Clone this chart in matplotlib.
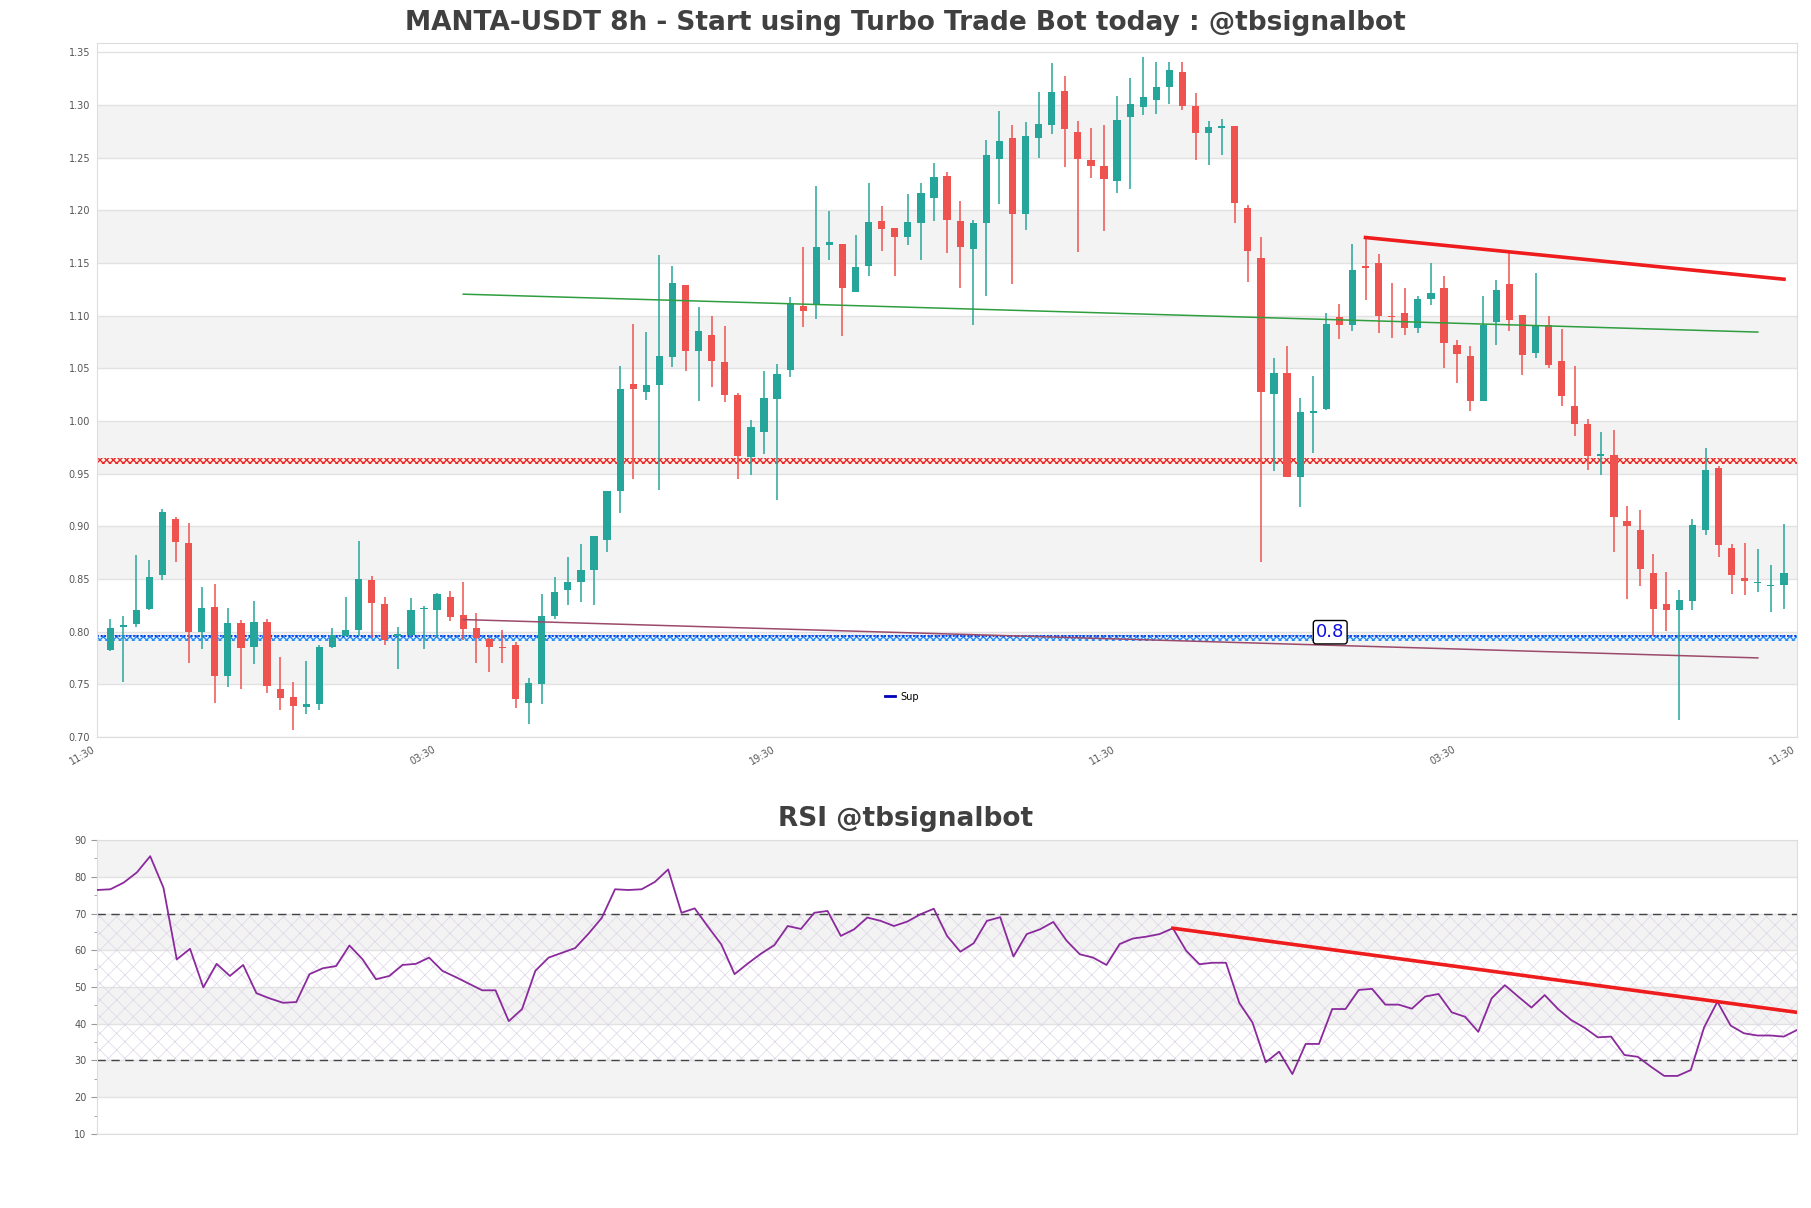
import numpy as np
import matplotlib
matplotlib.use('Agg')
import matplotlib.pyplot as plt
from matplotlib.lines import Line2D

# Datos de velas (8h)
opens = [0.7824, 0.8045, 0.8074, 0.8213, 0.8536, 0.9073, 0.8843, 0.7995, 0.8235, 0.7577,
         0.8083, 0.7853, 0.8093, 0.7457, 0.7381, 0.7283, 0.7315, 0.7853, 0.7963, 0.8014,
         0.8495, 0.8264, 0.7957, 0.7973, 0.8213, 0.8210, 0.8330, 0.8162, 0.8036, 0.7932,
         0.7850, 0.7878, 0.7324, 0.7505, 0.8147, 0.8393, 0.8469, 0.8583, 0.8874, 0.9333,
         1.0354, 1.0272, 1.0338, 1.0604, 1.1294, 1.0661, 1.0819, 1.0563, 1.0250, 0.9655,
         0.9892, 1.0212, 1.0481, 1.1094, 1.1110, 1.1673, 1.1680, 1.1230, 1.1477, 1.1901,
         1.1831, 1.1752, 1.1885, 1.2122, 1.2328, 1.1901, 1.1635, 1.1879, 1.2489, 1.2692,
         1.1964, 1.2685, 1.2812, 1.3134, 1.2745, 1.2480, 1.2423, 1.2284, 1.2891, 1.2986,
         1.3049, 1.3175, 1.3318, 1.2992, 1.2739, 1.2786, 1.2802, 1.2021, 1.1547, 1.0253,
         1.0456, 0.9465, 1.0076, 1.0117, 1.0984, 1.0914, 1.1474, 1.1499, 1.0999, 1.1025,
         1.0882, 1.1158, 1.1262, 1.0724, 1.0620, 1.0186, 1.0936, 1.1303, 1.1009, 1.0645,
         1.0914, 1.0573, 1.0139, 0.9975, 0.9671, 0.9674, 0.9048, 0.8969, 0.8558, 0.8264,
         0.8204, 0.8289, 0.8963, 0.9554, 0.8795, 0.8510, 0.8463, 0.8434, 0.8441]
highs = [0.8121, 0.8153, 0.8732, 0.8684, 0.9168, 0.9092, 0.9032, 0.8425, 0.8457, 0.8226,
         0.8115, 0.8295, 0.8121, 0.7761, 0.7520, 0.7726, 0.7878, 0.8036, 0.8333, 0.8865,
         0.8526, 0.8330, 0.8045, 0.8321, 0.8241, 0.8368, 0.8390, 0.8476, 0.8178, 0.7938,
         0.8014, 0.7900, 0.7562, 0.8362, 0.8520, 0.8713, 0.8836, 0.8912, 0.9339, 1.0519,
         1.0924, 1.0845, 1.1578, 1.1474, 1.1294, 1.1082, 1.0999, 1.0905, 1.0265, 1.0013,
         1.0471, 1.0541, 1.1174, 1.1651, 1.2233, 1.1996, 1.1680, 1.1768, 1.2258, 1.2043,
         1.1831, 1.2157, 1.2258, 1.2448, 1.2363, 1.2091, 1.1910, 1.2669, 1.2945, 1.2812,
         1.2843, 1.3128, 1.3403, 1.3277, 1.2850, 1.2780, 1.2812, 1.3087, 1.3254, 1.3454,
         1.3406, 1.3406, 1.3406, 1.3112, 1.2850, 1.2866, 1.2802, 1.2053, 1.1746, 1.0598,
         1.0715, 1.0218, 1.0424, 1.1025, 1.1110, 1.1683, 1.1746, 1.1588, 1.1309, 1.1262,
         1.1183, 1.1499, 1.1373, 1.0772, 1.0709, 1.1183, 1.1341, 1.1610, 1.1009, 1.1404,
         1.0993, 1.0876, 1.0525, 1.0019, 0.9892, 0.9918, 0.9190, 0.9159, 0.8741, 0.8564,
         0.8393, 0.9070, 0.9744, 0.9570, 0.8836, 0.8842, 0.8785, 0.8637, 0.9026]
lows = [0.7820, 0.7520, 0.8042, 0.8204, 0.8488, 0.8659, 0.7698, 0.7837, 0.7324, 0.7476,
        0.7457, 0.7694, 0.7419, 0.7255, 0.7065, 0.7220, 0.7261, 0.7846, 0.7957, 0.7957,
        0.7941, 0.7872, 0.7641, 0.7957, 0.7837, 0.7941, 0.8099, 0.7925, 0.7698, 0.7615,
        0.7698, 0.7277, 0.7125, 0.7315, 0.8120, 0.8251, 0.8280, 0.8257, 0.8754, 0.9127,
        0.9453, 1.0196, 0.9342, 1.0509, 1.0471, 1.0186, 1.0322, 1.0177, 0.9453, 0.9484,
        0.9690, 0.9254, 1.0415, 1.0898, 1.0968, 1.1531, 1.0810, 1.1230, 1.1373, 1.1616,
        1.1379, 1.1673, 1.1525, 1.1904, 1.1600, 1.1268, 1.0914, 1.1189, 1.2059, 1.1303,
        1.1816, 1.2495, 1.2723, 1.2410, 1.1610, 1.2312, 1.1809, 1.2163, 1.2205, 1.2907,
        1.2916, 1.3011, 1.2954, 1.2480, 1.2432, 1.2527, 1.1885, 1.1325, 0.8659, 0.9522,
        0.9465, 0.9181, 0.9696, 1.0101, 1.0778, 1.0857, 1.1145, 1.0835, 1.0788, 1.0819,
        1.0841, 1.1104, 1.0503, 1.0360, 1.0092, 1.0186, 1.0724, 1.0860, 1.0440, 1.0598,
        1.0503, 1.0139, 0.9861, 0.9538, 0.9484, 0.8754, 0.8311, 0.8431, 0.7957, 0.8004,
        0.7160, 0.8210, 0.8921, 0.8706, 0.8359, 0.8346, 0.8378, 0.8188, 0.8216]
closes = [0.8036, 0.8064, 0.8210, 0.8523, 0.9140, 0.8849, 0.7995, 0.8226, 0.7577, 0.8083,
          0.7843, 0.8093, 0.7482, 0.7369, 0.7293, 0.7318, 0.7856, 0.7966, 0.8020, 0.8501,
          0.8270, 0.7925, 0.7982, 0.8210, 0.8229, 0.8362, 0.8137, 0.8026, 0.7938, 0.7853,
          0.7843, 0.7362, 0.7514, 0.8153, 0.8381, 0.8476, 0.8589, 0.8912, 0.9339, 1.0307,
          1.0303, 1.0345, 1.0620, 1.1309, 1.0661, 1.0857, 1.0566, 1.0243, 0.9665, 0.9943,
          1.0218, 1.0449, 1.1110, 1.1041, 1.1651, 1.1702, 1.1268, 1.1461, 1.1888, 1.1825,
          1.1752, 1.1888, 1.2163, 1.2321, 1.1910, 1.1657, 1.1885, 1.2527, 1.2660, 1.1964,
          1.2707, 1.2821, 1.3128, 1.2777, 1.2492, 1.2426, 1.2299, 1.2859, 1.3011, 1.3080,
          1.3175, 1.3333, 1.2992, 1.2739, 1.2796, 1.2796, 1.2075, 1.1619, 1.0272, 1.0456,
          0.9465, 1.0085, 1.0098, 1.0924, 1.0914, 1.1430, 1.1458, 1.0993, 1.0984, 1.0882,
          1.1158, 1.1215, 1.0740, 1.0639, 1.0186, 1.0914, 1.1246, 1.0955, 1.0630, 1.0914,
          1.0528, 1.0234, 0.9975, 0.9665, 0.9680, 0.9089, 0.9000, 0.8596, 0.8216, 0.8210,
          0.8305, 0.9016, 0.9538, 0.8820, 0.8536, 0.8479, 0.8472, 0.8444, 0.8558]

rsi = [76.4, 76.6, 78.4, 81.2, 85.6, 77.0, 57.5, 60.4, 49.9, 56.3,
       53.0, 56.0, 48.3, 46.9, 45.7, 45.9, 53.5, 55.1, 55.7, 61.3,
       57.5, 52.1, 53.0, 56.0, 56.3, 58.0, 54.4, 52.7, 50.9, 49.1,
       49.1, 40.7, 44.0, 54.4, 58.0, 59.3, 60.6, 64.5, 68.8, 76.6,
       76.4, 76.6, 78.6, 82.0, 70.2, 71.4, 66.4, 61.6, 53.5, 56.4,
       59.1, 61.4, 66.6, 65.8, 70.2, 70.7, 63.9, 65.7, 68.9, 68.0,
       66.6, 67.8, 69.8, 71.3, 63.9, 59.6, 61.9, 68.0, 69.0, 58.3,
       64.4, 65.7, 67.7, 62.6, 58.9, 58.0, 56.0, 61.7, 63.2, 63.7,
       64.4, 66.0, 59.9, 56.2, 56.6, 56.6, 45.7, 40.3, 29.5, 32.4,
       26.3, 34.5, 34.5, 44.0, 44.0, 49.2, 49.5, 45.2, 45.2, 44.1,
       47.4, 48.1, 43.1, 41.9, 37.8, 46.9, 50.5, 47.4, 44.4, 47.8,
       44.0, 41.0, 38.9, 36.3, 36.5, 31.5, 31.0, 28.3, 25.8, 25.8,
       27.4, 39.0, 46.0, 39.5, 37.4, 36.8, 36.8, 36.5, 38.3]

x_labels = ['11:30', '03:30', '19:30', '11:30', '03:30', '11:30']

# Niveles y lineas de tendencia
resistance = 0.9617
support = 0.794
green_trend_x = [27, 126]
green_trend_y = [1.1205, 1.0845]
low_trend_x = [27, 126]
low_trend_y = [0.8115, 0.7751]
high_trend_x = [96, 128]
high_trend_y = [1.1743, 1.1347]
rsi_trend_x = [81, 128]
rsi_trend_y = [66.0, 43.1]

UP = '#26a69a'
DOWN = '#ef5350'
TXT = '#555555'

fig = plt.figure(figsize=(18.11, 12.08), dpi=100)
ax = fig.add_axes([0.0536, 0.3899, 0.9387, 0.5745])
ax2 = fig.add_axes([0.0536, 0.0613, 0.9387, 0.2433])

# ---- Grafico de precios ----
ax.set_xlim(-1, 129)
ax.set_ylim(0.70, 1.359)
for lo in np.arange(0.75, 1.30, 0.10):
    ax.axhspan(lo, lo + 0.05, color='#f3f3f3', lw=0, zorder=0)
for yv in np.arange(0.70, 1.36, 0.05):
    ax.axhline(yv, color='#e2e2e2', lw=1, zorder=0.5)

# bandas de soporte / resistencia (con rayado)
ax.axhspan(resistance - 0.0028, resistance + 0.0028, facecolor='#fff0e2', edgecolor='#e8262b',
           hatch='xxxxx', lw=0, zorder=1)
ax.axhspan(support - 0.0033, support + 0.0033, facecolor='#e8f4ff', edgecolor='#2a8cf0',
           hatch='xxxxx', lw=0, zorder=1)
ax.axhline(support + 0.0022, color='#1030e0', lw=1.3, ls=(0, (1, 1)), zorder=1.2)

# velas
idx = np.arange(len(opens))
o = np.array(opens)
c = np.array(closes)
colors = [UP if cc >= oo else DOWN for oo, cc in zip(o, c)]
ax.vlines(idx, lows, highs, colors=colors, lw=1.1, zorder=3)
body_h = np.maximum(np.abs(c - o), 0.0012)
ax.bar(idx, body_h, bottom=np.minimum(o, c), width=0.55, color=colors, lw=0, zorder=4)

ax.plot(green_trend_x, green_trend_y, color='#2e9e3e', lw=1.1, zorder=5)
ax.plot(low_trend_x, low_trend_y, color='#9c4a6a', lw=1.1, zorder=5)
ax.plot(high_trend_x, high_trend_y, color='#ee1c1c', lw=2.6, zorder=5)

ax.text(93.3, 0.7995, '0.8', color='#1010e0', fontsize=13, ha='center', va='center', zorder=6,
        bbox=dict(boxstyle='round,pad=0.15', fc='white', ec='black', lw=1))

sup_handle = Line2D([], [], color='#0000bb', lw=2)
ax.legend([sup_handle], ['Sup'], loc='center left', bbox_to_anchor=(0.4635, 0.058),
          frameon=False, fontsize=7, handlelength=1, borderpad=0, borderaxespad=0,
          handletextpad=0.6)

ax.set_xticks(np.linspace(-1, 129, 6))
ax.set_xticklabels(x_labels, rotation=30, ha='right', fontsize=7, color=TXT)
ax.set_yticks(np.arange(0.70, 1.36, 0.05))
ax.set_yticklabels(['%.2f' % v for v in np.arange(0.70, 1.36, 0.05)], fontsize=7, color=TXT)
ax.tick_params(length=0, pad=5)
for s in ax.spines.values():
    s.set_color('#dddddd')

# ---- RSI ----
ax2.set_xlim(0, 128)
ax2.set_ylim(10, 90)
for lo in [20, 40, 60, 80]:
    ax2.axhspan(lo, lo + 10, color='#f3f3f3', lw=0, zorder=0)
for yv in range(10, 91, 10):
    ax2.axhline(yv, color='#e2e2e2', lw=1, zorder=0.5)
plt.rcParams['hatch.linewidth'] = 0.5
ax2.axhspan(30, 70, facecolor='none', edgecolor='#ddd5e6', hatch='xx', lw=0, zorder=1)
ax2.axhline(70, color='#444444', lw=1, ls=(0, (6, 4)), zorder=2)
ax2.axhline(30, color='#444444', lw=1, ls=(0, (6, 4)), zorder=2)
ax2.plot(np.arange(len(rsi)), rsi, color='#8a2a9c', lw=1.3, zorder=3)
ax2.plot(rsi_trend_x, rsi_trend_y, color='#ee1c1c', lw=2.6, zorder=4)

ax2.set_yticks(range(10, 91, 10))
ax2.set_yticks(range(15, 90, 10), minor=True)
ax2.set_yticklabels([str(v) for v in range(10, 91, 10)], fontsize=7, color=TXT)
ax2.tick_params(axis='y', which='major', length=4, color='#999999')
ax2.tick_params(axis='y', which='minor', length=2, color='#999999')
ax2.set_xticks([])
for s in ax2.spines.values():
    s.set_color('#dddddd')

fig.text(0.5, 0.981, 'MANTA-USDT 8h - Start using Turbo Trade Bot today : @tbsignalbot',
         ha='center', va='center', fontsize=19, fontweight='bold', color='#404040')
fig.text(0.5, 0.322, 'RSI @tbsignalbot', ha='center', va='center', fontsize=19,
         fontweight='bold', color='#404040')

plt.savefig('out.png', dpi=100)
